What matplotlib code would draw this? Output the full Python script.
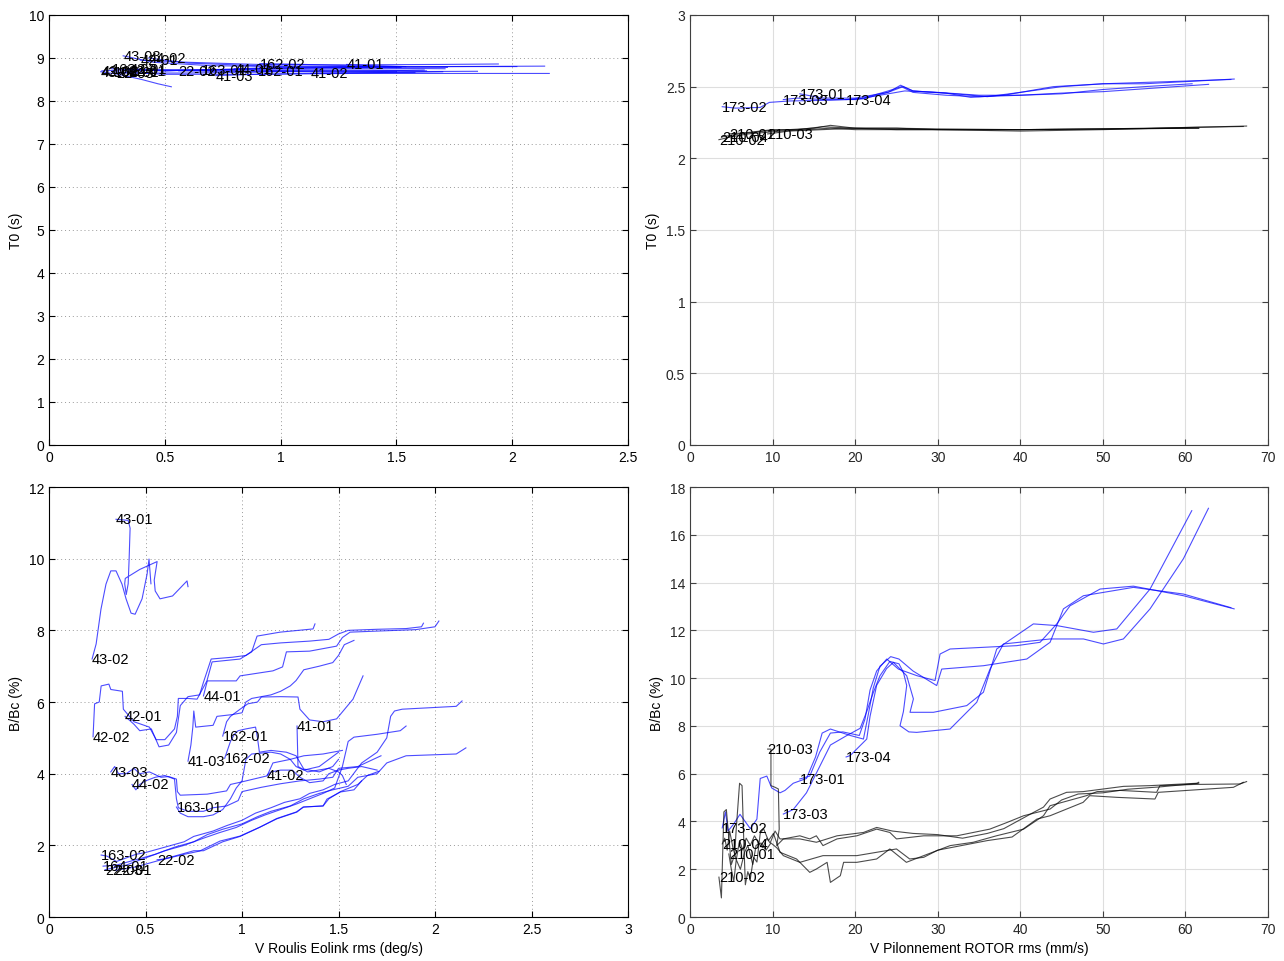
import matplotlib
matplotlib.use('Agg')
from matplotlib import pyplot as plt
from matplotlib.ticker import FormatStrFormatter, MultipleLocator

plt.rcParams['font.family'] = ['Liberation Sans', 'DejaVu Sans']
plt.rcParams['font.size'] = 10

########################## roulis tests : B/Bc (%) vs V roulis ############################
b4301_v = [0.347, 0.41, 0.42, 0.415, 0.41, 0.40, 0.392, 0.395, 0.47, 0.56, 0.545, 0.55, 0.575, 0.64, 0.715, 0.72]
b4301_b = [11.1, 11.07, 10.85, 10.0, 9.3, 9.0, 9.3, 9.45, 9.7, 9.92, 9.4, 9.1, 8.88, 8.96, 9.38, 9.22]
b4302_v = [0.223, 0.244, 0.269, 0.295, 0.32, 0.347, 0.378, 0.399, 0.425, 0.446, 0.482, 0.508, 0.518, 0.528]
b4302_b = [7.2, 7.62, 8.59, 9.29, 9.66, 9.66, 9.29, 8.88, 8.48, 8.45, 8.88, 9.57, 9.99, 9.3]
b4202_v = [0.228, 0.236, 0.26, 0.27, 0.31, 0.32, 0.38, 0.385, 0.44, 0.52, 0.555, 0.6, 0.65, 0.665, 0.67, 0.72,
           0.767, 0.818, 0.845, 0.99, 1.05, 1.078, 1.197, 1.368, 1.378]
b4202_b = [5.03, 5.95, 6.0, 6.45, 6.5, 6.35, 6.3, 5.8, 5.45, 5.3, 4.95, 4.95, 5.25, 5.6, 6.1, 6.1,
           6.08, 6.59, 7.12, 7.2, 7.4, 7.84, 7.95, 8.04, 8.18]
b4201_v = [0.394, 0.44, 0.47, 0.53, 0.57, 0.62, 0.66, 0.68, 0.72, 0.78, 0.8, 0.84, 0.95, 1.02, 1.06, 1.1,
           1.2, 1.35, 1.45, 1.5, 1.55, 1.7, 1.85, 1.93, 1.94]
b4201_b = [5.6, 5.38, 5.2, 5.25, 4.75, 4.8, 5.15, 5.9, 6.15, 6.2, 6.55, 7.2, 7.25, 7.3, 7.45, 7.6,
           7.65, 7.7, 7.75, 7.9, 8.0, 8.03, 8.05, 8.1, 8.2]
b4401_v = [0.80, 0.82, 0.97, 0.99, 1.16, 1.21, 1.23, 1.35, 1.49, 1.52, 1.56, 1.7, 1.9, 2.0, 2.02]
b4401_b = [6.17, 6.59, 6.59, 6.73, 6.87, 6.98, 7.4, 7.42, 7.56, 7.8, 7.95, 7.98, 8.02, 8.1, 8.26]
b4103_v = [0.72, 0.735, 0.745, 0.75, 0.76, 0.85, 0.87, 0.95, 1.0, 1.02, 1.05, 1.15, 1.2, 1.25, 1.28, 1.32,
           1.4, 1.47, 1.5, 1.53, 1.58]
b4103_b = [4.35, 4.8, 5.3, 5.75, 5.3, 5.35, 5.6, 5.65, 5.7, 6.0, 6.1, 6.2, 6.3, 6.45, 6.6, 6.9,
           7.0, 7.1, 7.3, 7.6, 7.72]
b16201_v = [0.90, 0.92, 0.94, 0.99, 1.03, 1.08, 1.1, 1.2, 1.29, 1.3, 1.35, 1.42, 1.49, 1.575, 1.627]
b16201_b = [5.05, 5.45, 5.6, 5.8, 5.95, 6.0, 6.14, 6.15, 6.14, 5.8, 5.5, 5.45, 5.53, 6.08, 6.73]
b16202_v = [0.91, 0.94, 0.96, 0.98, 1.02, 1.07, 1.08, 1.09, 1.15, 1.23, 1.28, 1.32, 1.4, 1.47, 1.5]
b16202_b = [4.43, 4.9, 5.1, 5.2, 5.25, 5.3, 5.0, 4.6, 4.65, 4.6, 4.5, 4.13, 4.05, 4.2, 4.4]
b4101_v = [1.285, 1.29, 1.34, 1.45, 1.5, 1.52, 1.54]
b4101_b = [5.33, 4.2, 4.05, 4.15, 4.05, 3.95, 3.7]
b4102_v = [1.13, 1.15, 1.2, 1.26, 1.3, 1.35, 1.42, 1.45, 1.5, 1.55, 1.62, 1.7]
b4102_b = [3.96, 4.05, 4.1, 4.1, 3.9, 3.75, 3.8, 4.0, 4.1, 4.15, 4.2, 4.1]
b4303_v = [0.32, 0.34, 0.36, 0.40, 0.44, 0.47, 0.52, 0.58, 0.62, 0.66, 0.665, 0.68, 0.82, 0.92, 0.94, 0.99,
           1.13, 1.16, 1.25, 1.32, 1.42, 1.52]
b4303_b = [4.05, 4.2, 4.0, 4.0, 4.15, 4.0, 4.05, 3.9, 3.92, 3.85, 3.5, 3.4, 3.43, 3.52, 3.7, 3.76,
           3.94, 4.3, 4.4, 4.5, 4.55, 4.65]
b4402_v = [0.43, 0.45, 0.47, 0.5, 0.55, 0.6, 0.65, 0.66, 0.67, 0.72, 0.8, 0.85, 0.92, 0.98, 1.0, 1.1,
           1.2, 1.3, 1.4, 1.47, 1.5, 1.6, 1.72]
b4402_b = [3.7, 3.55, 3.7, 3.8, 3.9, 3.95, 3.85, 3.3, 3.05, 2.95, 2.95, 3.05, 3.1, 3.25, 3.5, 3.62,
           3.72, 3.8, 3.85, 3.9, 4.15, 4.2, 4.5]
b16301_v = [0.66, 0.68, 0.72, 0.8, 0.85, 0.9, 0.94, 0.97, 1.0, 1.02, 1.05, 1.15, 1.2, 1.25, 1.28, 1.32,
            1.4, 1.45, 1.5]
b16301_b = [3.07, 2.9, 2.8, 2.8, 2.85, 3.0, 3.3, 3.6, 3.8, 4.4, 4.55, 4.6, 4.55, 4.4, 4.2, 4.1,
            4.2, 4.4, 4.6]
b16302_v = [0.27, 0.3, 0.35, 0.45, 0.5, 0.6, 0.7, 0.75, 0.85, 0.92, 1.0, 1.07, 1.15, 1.22, 1.3, 1.35,
            1.42, 1.48, 1.55, 1.62, 1.7, 1.75, 1.77, 1.79, 1.83, 2.11, 2.14]
b16302_b = [1.73, 1.7, 1.55, 1.75, 1.8, 1.95, 2.1, 2.25, 2.4, 2.55, 2.7, 2.9, 3.05, 3.2, 3.3, 3.45,
            3.55, 3.7, 3.8, 4.3, 4.6, 5.0, 5.6, 5.75, 5.8, 5.88, 6.03]
b16401_v = [0.28, 0.35, 0.45, 0.55, 0.65, 0.75, 0.82, 0.9, 1.0, 1.08, 1.15, 1.25, 1.32, 1.4, 1.47, 1.55,
            1.6, 1.7, 1.75, 1.85, 2.11, 2.16]
b16401_b = [1.42, 1.45, 1.6, 1.75, 1.95, 2.1, 2.3, 2.45, 2.6, 2.8, 2.95, 3.1, 3.3, 3.45, 3.55, 3.65,
            3.9, 4.0, 4.3, 4.5, 4.55, 4.72]
b2203_v = [0.29, 0.4, 0.5, 0.6, 0.7, 0.8, 0.88, 0.97, 1.05, 1.12, 1.2, 1.28, 1.35, 1.42, 1.48, 1.52,
           1.55, 1.58, 1.7, 1.82, 1.85]
b2203_b = [1.32, 1.45, 1.65, 1.85, 2.0, 2.2, 2.35, 2.5, 2.7, 2.85, 3.0, 3.15, 3.3, 3.45, 3.6, 4.2,
           4.9, 5.02, 5.1, 5.2, 5.33]
b2201_v = [0.34, 0.45, 0.55, 0.65, 0.75, 0.8, 0.9, 0.99, 1.09, 1.18, 1.28, 1.32, 1.42, 1.45, 1.51, 1.6,
           1.65, 1.71]
b2201_b = [1.30, 1.4, 1.55, 1.7, 1.85, 1.85, 2.1, 2.25, 2.5, 2.75, 2.93, 3.07, 3.1, 3.3, 3.5, 3.7,
           3.95, 4.07]
b2202_v = [0.56, 0.6, 0.7, 0.78, 0.886, 0.99, 1.093, 1.18, 1.285, 1.316, 1.42, 1.44, 1.51, 1.58, 1.62]
b2202_b = [1.6, 1.62, 1.75, 1.84, 2.12, 2.26, 2.51, 2.74, 2.93, 3.07, 3.1, 3.29, 3.49, 3.55, 3.8]

########################## roulis tests : T0 (s) vs V roulis ##############################
t4301_v = [0.347, 0.42, 0.5, 0.6, 0.72]
t4301_t = [8.75, 8.72, 8.7, 8.72, 8.7]
t4302_v = [0.223, 0.3, 0.4, 0.47, 0.528]
t4302_t = [8.68, 8.62, 8.5, 8.4, 8.33]
t4202_v = [0.228, 0.4, 0.6, 0.9, 1.2, 1.378]
t4202_t = [8.7, 8.74, 8.72, 8.75, 8.78, 8.8]
t4201_v = [0.394, 0.6, 0.9, 1.3, 1.7, 1.94]
t4201_t = [8.95, 8.9, 8.85, 8.84, 8.85, 8.86]
t4401_v = [0.80, 1.0, 1.4, 1.8, 2.02]
t4401_t = [8.75, 8.78, 8.8, 8.8, 8.8]
t4303_v = [0.32, 0.45, 0.7, 1.0, 1.3, 1.52]
t4303_t = [9.05, 8.9, 8.82, 8.8, 8.78, 8.78]
t4402_v = [0.43, 0.6, 0.9, 1.3, 1.72]
t4402_t = [9.0, 8.88, 8.82, 8.8, 8.78]
t16301_v = [0.66, 0.9, 1.2, 1.5]
t16301_t = [8.72, 8.7, 8.7, 8.68]
t4103_v = [0.72, 0.9, 1.2, 1.58]
t4103_t = [8.59, 8.62, 8.65, 8.66]
t16201_v = [0.9, 1.1, 1.4, 1.63]
t16201_t = [8.7, 8.72, 8.72, 8.7]
t16202_v = [0.91, 1.1, 1.3, 1.5]
t16202_t = [8.87, 8.85, 8.82, 8.8]
t4101_v = [1.285, 1.4, 1.54]
t4101_t = [8.85, 8.82, 8.8]
t4102_v = [1.13, 1.4, 1.7]
t4102_t = [8.64, 8.66, 8.68]
t16302_v = [0.27, 0.5, 0.9, 1.3, 1.7, 2.14]
t16302_t = [8.75, 8.7, 8.75, 8.78, 8.8, 8.81]
t16401_v = [0.28, 0.5, 0.9, 1.3, 1.7, 2.16]
t16401_t = [8.68, 8.62, 8.62, 8.64, 8.64, 8.64]
t2203_v = [0.29, 0.6, 1.0, 1.4, 1.85]
t2203_t = [8.65, 8.65, 8.68, 8.68, 8.69]
t2201_v = [0.34, 0.6, 1.0, 1.4, 1.71]
t2201_t = [8.7, 8.72, 8.74, 8.76, 8.75]
t2202_v = [0.56, 0.9, 1.3, 1.62]
t2202_t = [8.7, 8.68, 8.7, 8.72]

roulis = [('43-01', b4301_v, b4301_b, t4301_v, t4301_t),
          ('43-02', b4302_v, b4302_b, t4302_v, t4302_t),
          ('42-02', b4202_v, b4202_b, t4202_v, t4202_t),
          ('42-01', b4201_v, b4201_b, t4201_v, t4201_t),
          ('44-01', b4401_v, b4401_b, t4401_v, t4401_t),
          ('41-03', b4103_v, b4103_b, t4103_v, t4103_t),
          ('162-01', b16201_v, b16201_b, t16201_v, t16201_t),
          ('162-02', b16202_v, b16202_b, t16202_v, t16202_t),
          ('41-01', b4101_v, b4101_b, t4101_v, t4101_t),
          ('41-02', b4102_v, b4102_b, t4102_v, t4102_t),
          ('43-03', b4303_v, b4303_b, t4303_v, t4303_t),
          ('44-02', b4402_v, b4402_b, t4402_v, t4402_t),
          ('163-01', b16301_v, b16301_b, t16301_v, t16301_t),
          ('163-02', b16302_v, b16302_b, t16302_v, t16302_t),
          ('164-01', b16401_v, b16401_b, t16401_v, t16401_t),
          ('22-03', b2203_v, b2203_b, t2203_v, t2203_t),
          ('22-01', b2201_v, b2201_b, t2201_v, t2201_t),
          ('22-02', b2202_v, b2202_b, t2202_v, t2202_t)]

########################## pilonnement tests : B/Bc (%) vs V pilonnement ####################
b17302_v = [3.9, 4.3, 4.6, 5.3, 6.05, 7.3, 8.1, 8.5, 9.3, 9.9, 10.9, 11.5, 12.5, 14.1, 15.2, 16.0, 17.0,
            19.4, 21.0, 21.6, 22.2, 23.0, 24.3, 25.3, 27.0, 29.87, 30.48, 35.53, 40.78, 43.6, 45.22,
            47.64, 53.69, 59.75, 65.5]
b17302_b = [3.73, 4.4, 3.6, 3.9, 4.3, 3.7, 4.1, 5.8, 5.9, 5.4, 5.2, 5.3, 5.6, 5.8, 6.7, 7.7, 7.87,
            7.6, 7.45, 8.5, 9.6, 10.5, 10.9, 10.8, 10.3, 9.69, 10.38, 10.52, 10.8, 11.5, 12.9,
            13.45, 13.8, 13.52, 12.95]
b17301_v = [13.3, 14.5, 15.7, 17.0, 18.5, 20.5, 21.2, 21.8, 22.6, 23.82, 25.23, 27.5, 29.67, 30.28, 31.49,
            39.56, 42.39, 44.41, 46.02, 49.66, 53.69, 59.75, 65.89]
b17301_b = [5.78, 5.9, 6.9, 7.7, 7.75, 7.6, 8.3, 9.5, 10.3, 10.8, 10.38, 10.1, 9.9, 11.01, 11.22,
            11.36, 11.5, 12.27, 13.03, 13.73, 13.85, 13.45, 12.9]
b17303_v = [11.3, 12.5, 14.1, 15.7, 17.0, 19.0, 20.6, 21.4, 22.2, 23.0, 24.2, 25.3, 25.84, 26.24, 25.84,
            25.43, 26.5, 27.45, 31.49, 34.72, 36.33, 37.95, 43.6, 47.64, 50.06, 52.48, 55.71, 59.75, 62.78]
b17303_b = [4.31, 4.5, 5.2, 6.3, 7.2, 7.6, 7.9, 8.6, 9.4, 10.1, 10.7, 10.6, 10.24, 9.69, 8.6,
            8.01, 7.75, 7.73, 7.87, 8.99, 10.38, 11.43, 11.64, 11.64, 11.43, 11.64, 12.9, 15.0, 17.11]
b17304_v = [18.9, 19.4, 21.4, 21.8, 22.6, 23.8, 24.63, 26.24, 27.05, 26.64, 29.47, 33.51, 35.53, 37.14,
            41.58, 44.41, 48.85, 51.68, 55.71, 60.76]
b17304_b = [6.7, 6.76, 7.45, 8.4, 9.7, 10.4, 10.66, 10.1, 9.13, 8.57, 8.57, 8.85, 9.41, 11.22,
            12.27, 12.2, 11.92, 12.06, 13.73, 17.01]
b21002_v = [3.5, 3.8, 3.9, 4.1, 4.4, 4.6, 5.0, 5.4, 5.6, 6.0, 6.3, 6.5, 6.7, 7.0, 7.3, 7.7, 8.1, 8.5, 8.9,
            9.5, 10.1, 10.9, 12.9, 14.5, 15.3, 16.6, 17.0, 18.2, 18.6, 20.2, 22.6, 24.2, 26.2, 28.3,
            31.5, 34.3, 37.1, 40.4, 42.8, 43.6, 48.0, 49.3, 52.1, 56.5, 56.9, 61.0, 66.6, 67.4]
b21002_b = [1.67, 0.8, 2.0, 4.4, 4.5, 3.7, 2.2, 2.6, 3.7, 5.6, 5.5, 3.3, 1.35, 1.9, 1.6, 2.5, 2.3, 3.5, 3.7,
            3.2, 3.5, 2.71, 2.43, 1.87, 2.01, 2.29, 1.45, 1.73, 2.29, 2.29, 2.43, 2.85, 2.29, 2.57,
            2.99, 3.13, 3.4, 3.68, 4.24, 4.66, 5.08, 5.25, 5.3, 5.22, 5.5, 5.55, 5.57, 5.67]
b21004_v = [3.9, 4.2, 4.5, 4.8, 5.2, 5.6, 6.0, 6.4, 6.8, 7.3, 7.8, 8.3, 8.8, 9.3, 9.7, 10.3, 10.9, 13.3,
            15.3, 17.8, 21.0, 22.6, 24.5, 27.0, 30.0, 33.0, 36.0, 38.0, 41.6, 42.8, 43.6, 45.6, 47.6,
            52.5, 55.7, 61.4, 61.6]
b21004_b = [3.06, 3.3, 2.8, 3.6, 2.9, 2.4, 3.2, 2.8, 3.3, 3.0, 3.4, 3.1, 2.9, 3.3, 3.1, 3.6, 3.27, 3.27,
            3.13, 3.4, 3.54, 3.75, 3.6, 3.5, 3.45, 3.3, 3.5, 3.7, 4.38, 4.6, 4.94, 5.22, 5.25,
            5.47, 5.5, 5.6, 5.64]
b21001_v = [4.7, 5.0, 5.3, 5.6, 6.1, 6.6, 7.0, 7.6, 8.0, 8.6, 9.2, 9.8, 10.5, 11.3, 13.3, 16.1, 20.2, 22.6,
            25.0, 26.6, 28.3, 30.0, 33.0, 36.0, 39.0, 42.0, 43.6, 47.6, 48.4, 51.7, 56.3, 56.7, 59.75,
            65.8, 67.0]
b21001_b = [2.64, 2.0, 1.5, 2.4, 2.0, 2.7, 3.0, 2.2, 3.0, 3.1, 2.8, 3.1, 2.9, 2.57, 2.29, 2.57, 2.57, 2.71,
            2.85, 2.43, 2.5, 2.8, 3.0, 3.2, 3.35, 4.1, 4.24, 4.8, 5.08, 5.01, 4.94, 5.22, 5.29,
            5.43, 5.64]
b21003_v = [9.4, 9.8, 9.8, 10.3, 10.7, 10.8, 10.5, 11.3, 13.3, 14.5, 15.3, 16.1, 17.8, 20.2, 22.6, 24.2,
            25.0, 28.3, 32.3, 36.3, 38.4, 40.4, 43.6, 45.0, 47.0, 50.0, 53.0, 57.0, 61.6]
b21003_b = [7.03, 7.03, 5.5, 5.43, 5.36, 3.68, 2.99, 3.27, 3.4, 3.27, 3.4, 2.99, 3.27, 3.4, 3.68, 3.54,
            3.27, 3.4, 3.4, 3.68, 3.96, 4.24, 4.52, 4.9, 5.15, 5.2, 5.35, 5.45, 5.6]

########################## pilonnement tests : T0 (s) vs V pilonnement ######################
t17302_v = [3.9, 5.5, 8.5, 9.6, 12.0, 17.0, 21.0, 24.2, 25.8, 27.0, 31.0, 34.0, 38.0, 44.0, 50.0, 58.0, 65.5]
t17302_t = [2.36, 2.35, 2.355, 2.39, 2.4, 2.405, 2.415, 2.465, 2.5, 2.47, 2.455, 2.425, 2.44, 2.5, 2.52, 2.535, 2.55]
t17301_v = [13.3, 16.0, 20.0, 24.0, 25.5, 27.0, 32.0, 36.0, 40.0, 45.0, 50.0, 55.0, 60.0, 65.9]
t17301_t = [2.45, 2.42, 2.42, 2.46, 2.51, 2.47, 2.45, 2.43, 2.46, 2.5, 2.52, 2.52, 2.535, 2.553]
t17303_v = [11.3, 13.0, 16.0, 20.0, 24.0, 26.0, 30.0, 35.0, 40.0, 45.0, 50.0, 55.0, 62.8]
t17303_t = [2.41, 2.42, 2.41, 2.41, 2.45, 2.47, 2.46, 2.44, 2.44, 2.455, 2.465, 2.485, 2.516]
t17304_v = [18.9, 21.0, 24.0, 25.6, 27.0, 31.0, 35.0, 40.0, 45.0, 50.0, 55.0, 60.8]
t17304_t = [2.41, 2.42, 2.47, 2.5, 2.46, 2.44, 2.43, 2.44, 2.45, 2.48, 2.5, 2.52]
t21002_v = [3.5, 5.0, 7.0, 9.0, 11.0, 14.0, 17.0, 20.0, 25.0, 30.0, 40.0, 50.0, 60.0, 67.4]
t21002_t = [2.13, 2.15, 2.17, 2.18, 2.19, 2.2, 2.21, 2.2, 2.2, 2.2, 2.19, 2.2, 2.215, 2.225]
t21004_v = [3.9, 6.0, 9.0, 12.0, 15.0, 17.0, 20.0, 25.0, 30.0, 40.0, 50.0, 61.6]
t21004_t = [2.15, 2.17, 2.19, 2.2, 2.21, 2.23, 2.21, 2.21, 2.2, 2.2, 2.205, 2.21]
t21001_v = [4.7, 7.0, 10.0, 13.0, 16.0, 20.0, 25.0, 30.0, 40.0, 50.0, 60.0, 67.0]
t21001_t = [2.17, 2.18, 2.2, 2.2, 2.22, 2.21, 2.21, 2.205, 2.2, 2.205, 2.215, 2.222]
t21003_v = [9.4, 12.0, 16.0, 20.0, 25.0, 30.0, 40.0, 50.0, 61.6]
t21003_t = [2.17, 2.19, 2.2, 2.21, 2.2, 2.2, 2.2, 2.205, 2.21]

pilon = [('173-02', 'b', b17302_v, b17302_b, t17302_v, t17302_t),
         ('173-01', 'b', b17301_v, b17301_b, t17301_v, t17301_t),
         ('173-03', 'b', b17303_v, b17303_b, t17303_v, t17303_t),
         ('173-04', 'b', b17304_v, b17304_b, t17304_v, t17304_t),
         ('210-02', 'k', b21002_v, b21002_b, t21002_v, t21002_t),
         ('210-04', 'k', b21004_v, b21004_b, t21004_v, t21004_t),
         ('210-01', 'k', b21001_v, b21001_b, t21001_v, t21001_t),
         ('210-03', 'k', b21003_v, b21003_b, t21003_v, t21003_t)]


def matlab_axes(ax, matlab_new):
    ax.tick_params(direction='in', top=True, right=True, length=4, labelsize=10)
    ax.xaxis.set_major_formatter(FormatStrFormatter('%g'))
    ax.yaxis.set_major_formatter(FormatStrFormatter('%g'))
    if matlab_new:
        ax.grid(True, color='0.87', linestyle='-', linewidth=0.8)
        for s in ax.spines.values():
            s.set_color('0.25')
        ax.tick_params(colors='0.25', labelcolor='0.15')
    else:
        ax.grid(True, color='0.6', linestyle=(0, (1, 3)), linewidth=0.7)
        ax.tick_params(colors='k')
    ax.set_axisbelow(True)


fig = plt.figure(figsize=(12.84, 9.62), dpi=100)
ax_tl = fig.add_axes([0.0382, 0.5364, 0.4509, 0.447])
ax_tr = fig.add_axes([0.5374, 0.5364, 0.4502, 0.447])
ax_bl = fig.add_axes([0.0382, 0.0457, 0.4509, 0.447])
ax_br = fig.add_axes([0.5374, 0.0457, 0.4502, 0.447])

########################## roulis figures ##########################
for name, v, b, tv, t in roulis:
    ax_bl.plot(v, b, color='b', linewidth=0.8, alpha=0.7)
    ax_bl.text(v[0], b[0], name, ha='left', va='center', fontsize=10.5)
    ax_tl.plot(tv, t, color='b', linewidth=0.8, alpha=0.7)
    ax_tl.text(tv[0], t[0], name, ha='left', va='center', fontsize=10.5)

ax_tl.set_xlim(0, 2.5)
ax_tl.set_ylim(0, 10)
ax_tl.xaxis.set_major_locator(MultipleLocator(0.5))
ax_tl.yaxis.set_major_locator(MultipleLocator(1))
ax_tl.set_ylabel('T0 (s)')
matlab_axes(ax_tl, False)

ax_bl.set_xlim(0, 3)
ax_bl.set_ylim(0, 12)
ax_bl.xaxis.set_major_locator(MultipleLocator(0.5))
ax_bl.yaxis.set_major_locator(MultipleLocator(2))
ax_bl.set_xlabel('V Roulis Eolink rms (deg/s)')
ax_bl.set_ylabel('B/Bc (%)')
matlab_axes(ax_bl, False)

########################## pilonnement figures ######################
for name, c, v, b, tv, t in pilon:
    ax_br.plot(v, b, color=c, linewidth=0.8, alpha=0.7)
    ax_br.text(v[0], b[0], name, ha='left', va='center', fontsize=10.5)
    ax_tr.plot(tv, t, color=c, linewidth=0.8, alpha=0.7)
    ax_tr.text(tv[0], t[0], name, ha='left', va='center', fontsize=10.5)

ax_tr.set_xlim(0, 70)
ax_tr.set_ylim(0, 3)
ax_tr.xaxis.set_major_locator(MultipleLocator(10))
ax_tr.yaxis.set_major_locator(MultipleLocator(0.5))
ax_tr.set_ylabel('T0 (s)')
matlab_axes(ax_tr, True)

ax_br.set_xlim(0, 70)
ax_br.set_ylim(0, 18)
ax_br.xaxis.set_major_locator(MultipleLocator(10))
ax_br.yaxis.set_major_locator(MultipleLocator(2))
ax_br.set_xlabel('V Pilonnement ROTOR rms (mm/s)')
ax_br.set_ylabel('B/Bc (%)')
matlab_axes(ax_br, True)

plt.savefig('out.png', dpi=100)
